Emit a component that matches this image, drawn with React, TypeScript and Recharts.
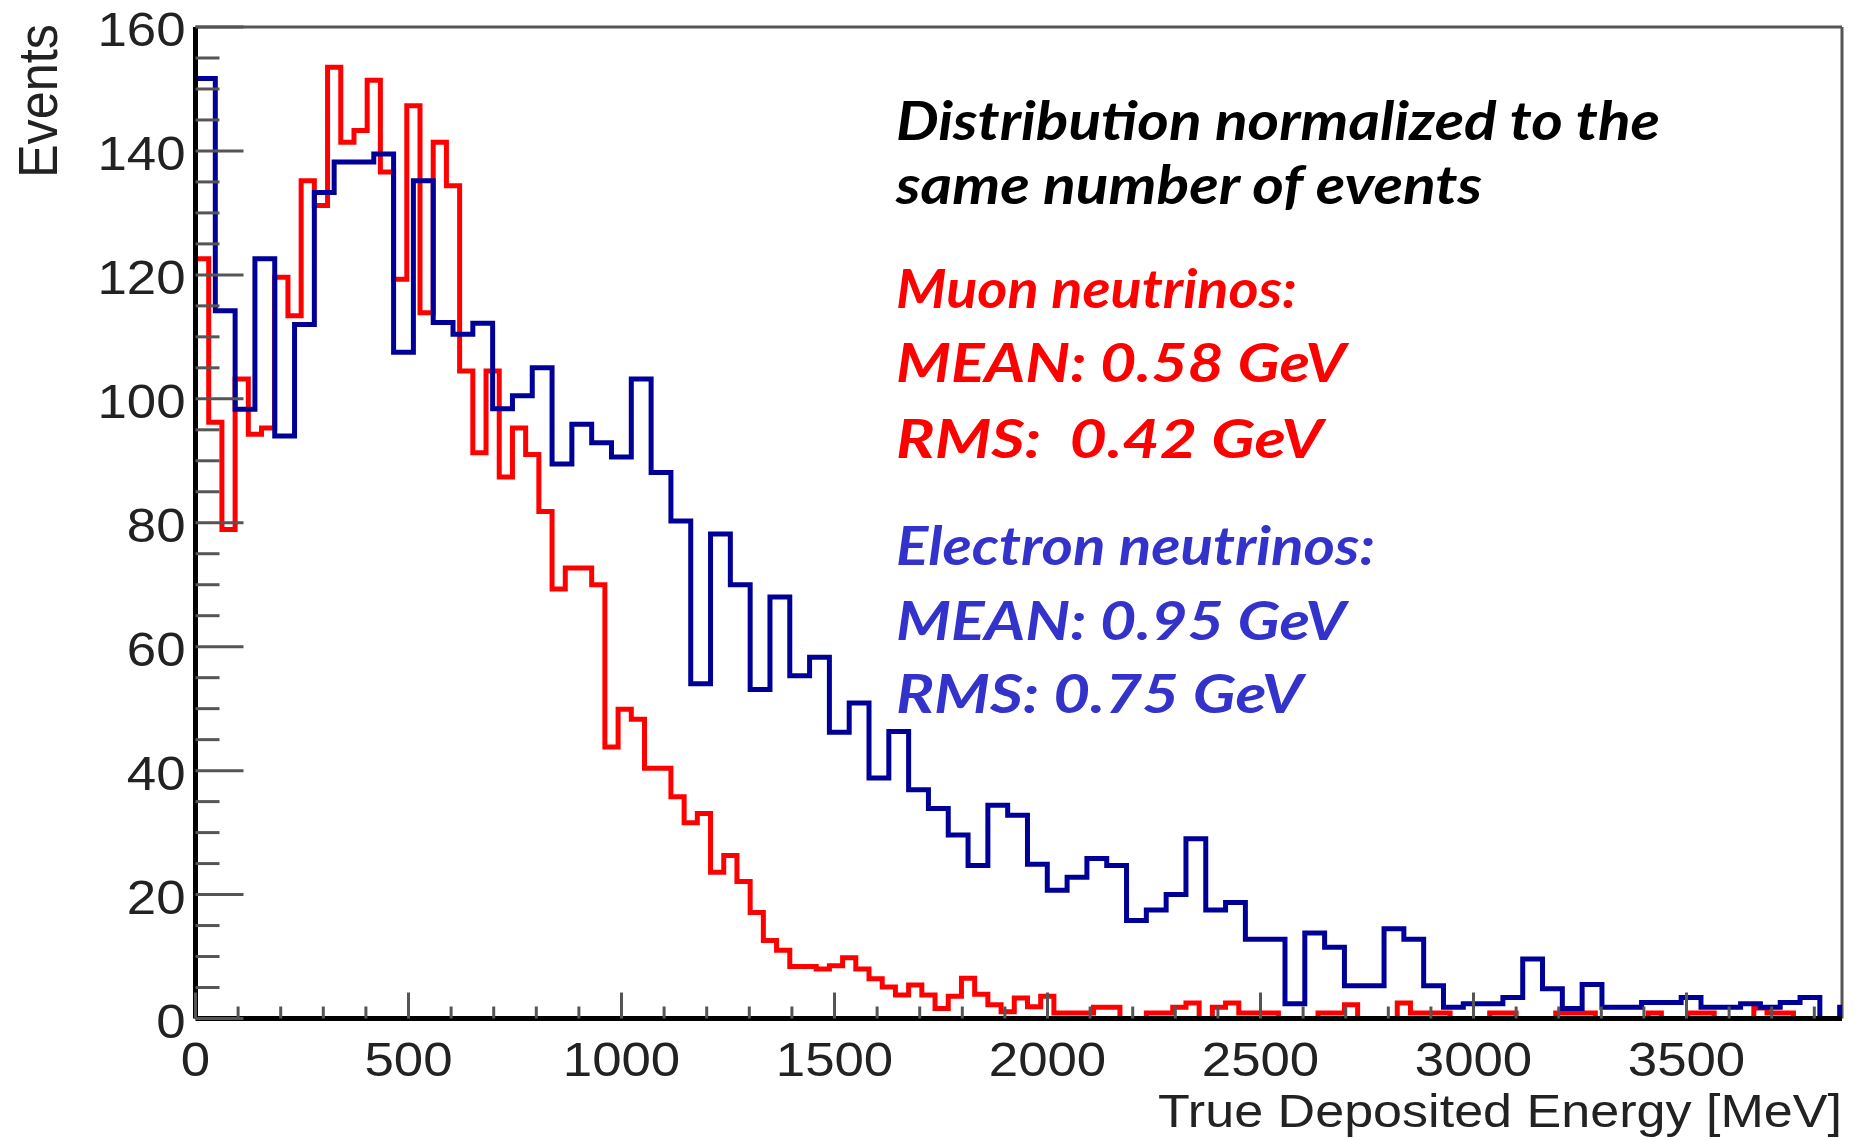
import { LineChart, Line, XAxis, YAxis, ReferenceLine } from 'recharts';

// energy axis is cut a bit past the last blue bin edge
const X_MAX = 3865;
const MUON_BIN = 31;
const ELECTRON_BIN = 46.5;

// muon neutrinos (red), 31 MeV bins from 0
const muonCounts = [
  122.6, 96.2, 78.9, 103.2, 94.3, 95.3, 119.6, 113.4, 135.2, 131.2,
  153.5, 141.4, 143.3, 151.4, 136.6, 119.3, 147.3, 113.9, 141.4, 134.4,
  104.5, 91.3, 104.5, 87.4, 95.3, 91.0, 81.8, 69.3, 72.7, 72.7,
  70.0, 43.8, 49.9, 48.3, 40.4, 40.4, 35.8, 31.6, 33.1, 23.6,
  26.3, 22.1, 17.1, 12.6, 11.0, 8.4, 8.4, 8.0, 8.5, 9.8,
  8.0, 6.4, 5.1, 3.8, 5.4, 3.8, 1.6, 3.6, 6.5, 3.9,
  2.2, 1.1, 3.3, 1.9, 3.6, 0.9, 0.9, 0.9, 1.8, 1.8,
  0, 0, 0.9, 0.9, 1.8, 2.5, 0, 1.8, 2.5, 0.9,
  0.9, 0.9, 0, 0, 0, 0.9, 0.9, 2.2, 0, 0,
  0, 2.5, 0.9, 0.9, 0.9, 0, 0, 0, 0.9, 0.9,
  0, 0, 0, 0.9, 0.9, 0.9, 0, 0, 0, 0,
  0.9, 0, 0, 0.9, 0.9, 0, 0, 0, 1.7, 0.9,
  0.9, 0, 0, 0, 0,
];

// electron neutrinos (blue), 46.5 MeV bins from 0
const electronCounts = [
  151.7, 114.2, 98.3, 122.6, 94.0, 112.0, 133.3, 138.2, 138.2, 139.5,
  107.5, 135.2, 112.3, 110.4, 112.2, 98.4, 100.5, 105.0, 89.5, 95.9,
  92.9, 90.6, 103.2, 88.1, 80.3, 54.0, 78.2, 70.0, 53.1, 68.0,
  55.3, 58.3, 46.2, 50.9, 38.8, 46.3, 36.9, 33.9, 29.6, 24.7,
  34.4, 32.8, 24.9, 20.7, 22.8, 25.8, 24.7, 15.8, 17.5, 20.0,
  29.0, 17.5, 18.7, 12.8, 12.8, 2.4, 13.8, 11.5, 5.3, 5.3,
  14.5, 12.8, 5.3, 1.8, 2.4, 2.4, 3.4, 9.6, 4.8, 1.6,
  5.5, 1.8, 1.8, 2.6, 2.6, 3.4, 1.8, 1.8, 2.4, 1.8,
  2.6, 3.4, 0, 1.8,
];

const xLabels = [0, 500, 1000, 1500, 2000, 2500, 3000, 3500];
const yLabels = [0, 20, 40, 60, 80, 100, 120, 140, 160];
const xTicks = Array.from({ length: 39 }, (_, i) => i * 100);
const yTicks = Array.from({ length: 33 }, (_, i) => i * 5);

const notes = [
  { text: 'Distribution normalized to the', color: '#000', y: 140, w: 764 },
  { text: 'same number of events', color: '#000', y: 204, w: 586 },
  { text: 'Muon neutrinos:', color: '#ff0000', y: 308, w: 401 },
  { text: 'MEAN: 0.58 GeV', color: '#ff0000', y: 382, w: 450 },
  { text: 'RMS:  0.42 GeV', color: '#ff0000', y: 458, w: 427 },
  { text: 'Electron neutrinos:', color: '#3333cc', y: 565, w: 479 },
  { text: 'MEAN: 0.95 GeV', color: '#3333cc', y: 640, w: 450 },
  { text: 'RMS: 0.75 GeV', color: '#3333cc', y: 713, w: 407 },
];

const toSteps = (counts: number[], width: number) => {
  const pts = counts.map((c, i) => ({ x: i * width, y: c }));
  pts.push({ x: X_MAX, y: counts[counts.length - 1] });
  return pts;
};

const muon = toSteps(muonCounts, MUON_BIN);
const electron = toSteps(electronCounts, ELECTRON_BIN);

const FONT = '"Liberation Sans", Arial, sans-serif';

const XTick = (props: any) => {
  const { x, y, payload } = props;
  const major = xLabels.includes(payload.value);
  return (
    <g>
      <line x1={x} x2={x} y1={y} y2={y - (major ? 26 : 12)} stroke='#555' strokeWidth={3} />
      {major && (
        <text
          transform={`translate(${x},${y + 57}) scale(1.1,1)`}
          textAnchor='middle'
          fontFamily={FONT}
          fontSize={48}
          fill='#222'
        >
          {payload.value}
        </text>
      )}
    </g>
  );
};

const YTick = (props: any) => {
  const { x, y, payload } = props;
  const major = yLabels.includes(payload.value);
  return (
    <g>
      <line x1={x} x2={x + (major ? 48 : 24)} y1={y} y2={y} stroke='#555' strokeWidth={3} />
      {major && (
        <text
          transform={`translate(${x - 10},${y + 19}) scale(1.1,1)`}
          textAnchor='end'
          fontFamily={FONT}
          fontSize={48}
          fill='#222'
        >
          {payload.value}
        </text>
      )}
    </g>
  );
};

const App = () => {
  return (
    <div style={{ position: 'absolute', left: 0, top: 0, width: 1857, height: 1140, background: '#fff' }}>
      <LineChart width={1857} height={1140} margin={{ top: 27, right: 15, bottom: 0, left: 0 }}>
        <XAxis
          dataKey='x'
          type='number'
          domain={[0, X_MAX]}
          allowDataOverflow
          ticks={xTicks}
          interval={0}
          tickSize={0}
          tickMargin={0}
          tickLine={false}
          tick={XTick}
          height={121.5}
          axisLine={{ stroke: '#000', strokeWidth: 5 }}
        />
        <YAxis
          type='number'
          domain={[0, 160]}
          ticks={yTicks}
          interval={0}
          tickSize={0}
          tickMargin={0}
          tickLine={false}
          tick={YTick}
          width={195.5}
          axisLine={{ stroke: '#000', strokeWidth: 5 }}
        />
        <ReferenceLine y={160} stroke='#555' strokeWidth={3} />
        <ReferenceLine x={X_MAX} stroke='#555' strokeWidth={3} />
        <Line
          data={muon}
          dataKey='y'
          type='stepAfter'
          stroke='#ff0000'
          strokeWidth={5}
          strokeLinejoin='miter'
          dot={false}
          activeDot={false}
          isAnimationActive={false}
        />
        <Line
          data={electron}
          dataKey='y'
          type='stepAfter'
          stroke='#000099'
          strokeWidth={5}
          strokeLinejoin='miter'
          dot={false}
          activeDot={false}
          isAnimationActive={false}
        />
      </LineChart>
      <svg
        width={1857}
        height={1140}
        style={{ position: 'absolute', left: 0, top: 0, pointerEvents: 'none' }}
      >
        <text
          transform='translate(57,24) scale(1.1,1) rotate(-90)'
          textAnchor='end'
          fontFamily={FONT}
          fontSize={50}
          textLength={154}
          lengthAdjust='spacingAndGlyphs'
          fill='#222'
        >
          Events
        </text>
        <text
          x={1842}
          y={1127}
          textAnchor='end'
          fontFamily={FONT}
          fontSize={47}
          textLength={684}
          lengthAdjust='spacingAndGlyphs'
          fill='#222'
        >
          True Deposited Energy [MeV]
        </text>
        {notes.map((n) => (
          <text
            key={n.text}
            x={896}
            y={n.y}
            fontFamily='Lato, "Open Sans", sans-serif'
            fontWeight={700}
            fontStyle='italic'
            fontSize={54}
            textLength={n.w}
            lengthAdjust='spacingAndGlyphs'
            fill={n.color}
            style={{ whiteSpace: 'pre' }}
          >
            {n.text}
          </text>
        ))}
      </svg>
    </div>
  );
};

export default App;
